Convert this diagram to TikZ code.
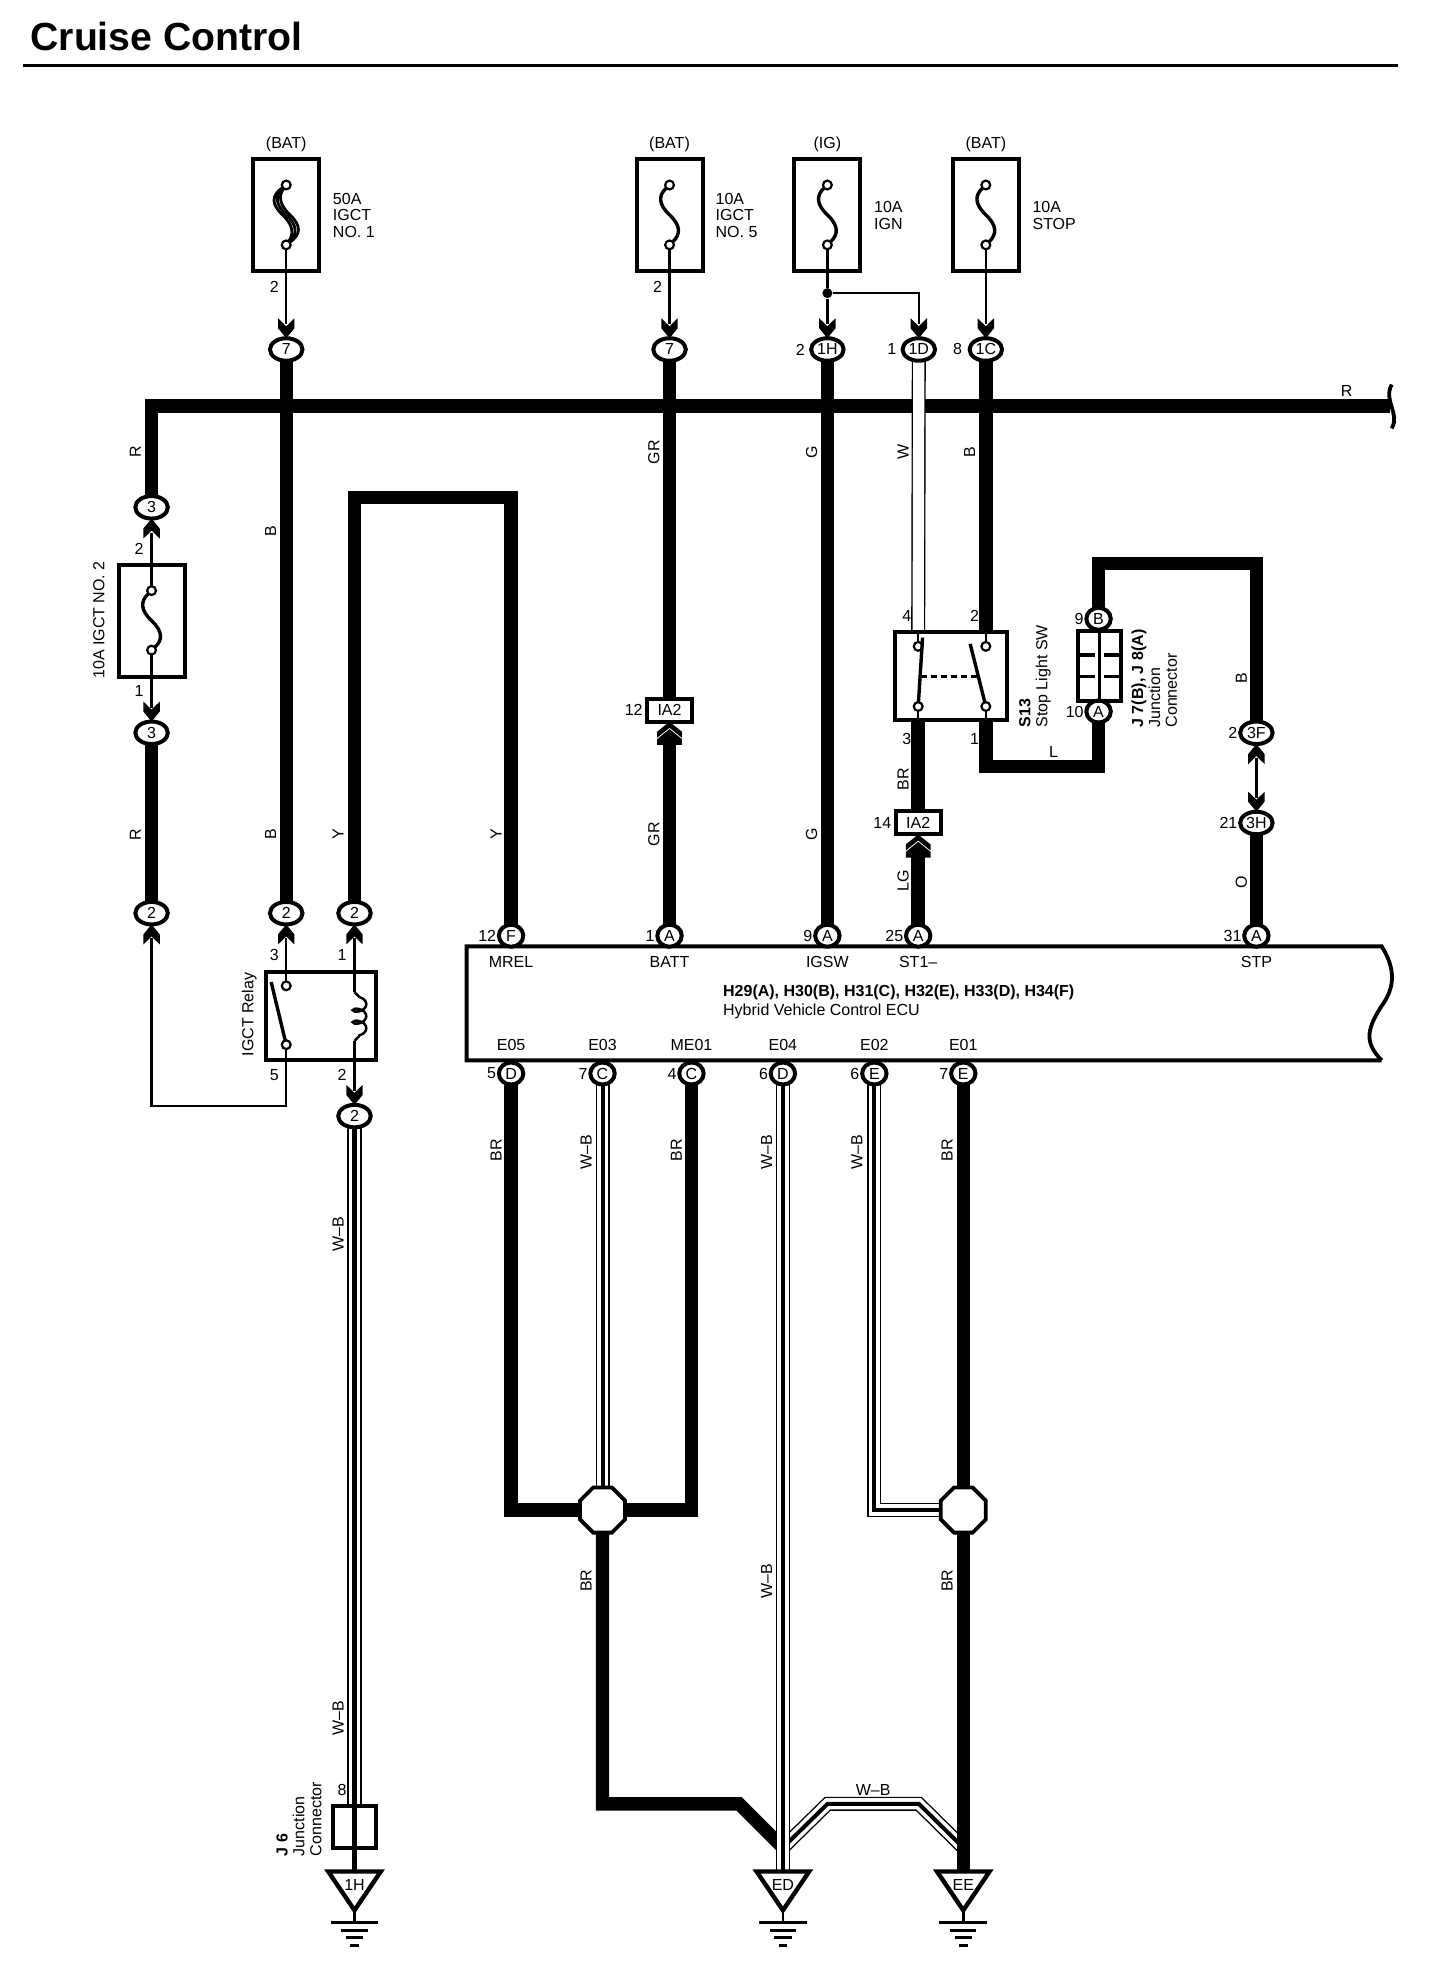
\documentclass[tikz,border=0pt]{standalone}
\usepackage{fontspec}
\setmainfont{Liberation Sans}
\usetikzlibrary{arrows.meta,backgrounds,positioning,shapes.geometric,decorations.pathmorphing}

\pgfdeclarearrow{
  name=Notch,
  setup code={\pgfarrowssettipend{10pt}\pgfarrowssetlineend{3pt}\pgfarrowssetvisualbackend{3pt}},
  drawing code={
    \pgfpathmoveto{\pgfqpoint{10pt}{0pt}}
    \pgfpathlineto{\pgfqpoint{5pt}{4.1pt}}
    \pgfpathlineto{\pgfqpoint{0pt}{4.1pt}}
    \pgfpathlineto{\pgfqpoint{4pt}{0pt}}
    \pgfpathlineto{\pgfqpoint{0pt}{-4.1pt}}
    \pgfpathlineto{\pgfqpoint{5pt}{-4.1pt}}
    \pgfpathclose
    \pgfusepathqfill}
}
\pgfdeclarearrow{
  name=Chevrons,
  setup code={\pgfarrowssettipend{11.6pt}\pgfarrowssetlineend{1pt}\pgfarrowssetvisualbackend{1pt}},
  drawing code={
    \pgfpathmoveto{\pgfqpoint{11.6pt}{0pt}}
    \pgfpathlineto{\pgfqpoint{6.6pt}{6.2pt}}
    \pgfpathlineto{\pgfqpoint{3.6pt}{6.2pt}}
    \pgfpathlineto{\pgfqpoint{8.6pt}{0pt}}
    \pgfpathlineto{\pgfqpoint{3.6pt}{-6.2pt}}
    \pgfpathlineto{\pgfqpoint{6.6pt}{-6.2pt}}
    \pgfpathclose
    \pgfpathmoveto{\pgfqpoint{7.9pt}{0pt}}
    \pgfpathlineto{\pgfqpoint{2.9pt}{6.2pt}}
    \pgfpathlineto{\pgfqpoint{0pt}{6.2pt}}
    \pgfpathlineto{\pgfqpoint{0pt}{-6.2pt}}
    \pgfpathlineto{\pgfqpoint{2.9pt}{-6.2pt}}
    \pgfpathclose
    \pgfusepathqfill}
}

\tikzset{
  tag/.style={inner sep=0pt,font=\fontsize{8}{8.45}\selectfont},
  boldtag/.style={tag,font=\fontsize{8}{8.45}\selectfont\bfseries},
  vtag/.style={tag,rotate=90},
  side/.style={tag,align=left,anchor=west},
  vside/.style={tag,rotate=90,align=left,anchor=south west},
  oval/.style={tag,ellipse,draw,fill=white,line width=2pt,outer sep=0pt,minimum width=16.25pt,minimum height=11.25pt},
  circ/.style={tag,ellipse,draw,fill=white,line width=2pt,outer sep=0pt,minimum width=12.2pt,minimum height=11pt},
  fusebox/.style={draw,line width=2pt,outer sep=0pt,inner sep=0pt,minimum width=33pt,minimum height=56pt},
  bigbox/.style={draw,line width=2pt,outer sep=0pt,inner sep=0pt},
  term/.style={circle,draw,fill=white,line width=1.1pt,inner sep=0pt,outer sep=0pt,minimum size=4.4pt},
  junc/.style={regular polygon,regular polygon sides=8,draw,fill=white,line width=1.9pt,inner sep=0pt,outer sep=0pt,minimum size=24.4pt},
  wire/.style={line width=6.7pt},
  wireW/.style={line width=7pt,postaction={draw=white,line width=5.6pt}},
  wireWB/.style={line width=7pt,postaction={draw=white,line width=5.6pt},postaction={draw=black,line width=2pt}},
  feed/.style={line width=1.25pt,-{Notch}},
  bifeed/.style={line width=1.25pt,{Notch}-{Notch}},
  thinw/.style={line width=1.25pt},
  chev/.style={wire,-{Chevrons}},
  blade/.style={line width=1.7pt},
  tri/.style={draw,fill=white,line width=2.2pt,line join=miter}
}

\begin{document}
\begin{tikzpicture}[x=.6263pt,y=-.6263pt]
\path[use as bounding box] (0,0) rectangle (1149.6,1567.9);

% Title
\node[tag,anchor=base west,font=\fontsize{19.6}{20}\selectfont\bfseries] (title) at (24,40) {Cruise Control};
\coordinate (ruleL) at (18,52);
\coordinate (ruleR) at (1116,52);
\draw[line width=1.5pt] (ruleL) -- (ruleR);

% Fuses along the top
\foreach \nm/\x/\src in {a/228.5/(BAT),b/534.5/(BAT),c/660.5/(IG),d/787/(BAT)}{
  \node[tag] (src\nm) at (\x,115) {\src};
  \node[fusebox] (fuse\nm) at (\x,171.4) {};
  \node[term] (ft\nm) at (\x,147.7) {};
  \node[term] (fb\nm) at (\x,195.5) {};
}
\foreach \nm/\x in {b/534.5,c/660.5,d/787}{
  \draw[blade] (ft\nm) .. controls ({\x-9},156) and ({\x-9},163) .. (\x,171.5)
     .. controls ({\x+9},180) and ({\x+9},187) .. (fb\nm);
}
\foreach \s in {-3,0,3}{
  \draw[line width=1.4pt] (fta) .. controls ({228.5-9+\s},156) and ({228.5-9+\s},163) .. ({228.5+\s},171.5)
     .. controls ({228.5+9+\s},180) and ({228.5+9+\s},187) .. (fba);
}
\node[side] (nameA) at (265.5,172) {50A\\IGCT\\NO. 1};
\node[side] (nameB) at (571,172) {10A\\IGCT\\NO. 5};
\node[side] (nameC) at (697.5,172) {10A\\IGN};
\node[side] (nameD) at (824,172) {10A\\STOP};
\node[tag] (nA) at (219,229) {2};
\node[tag] (nB) at (525,229) {2};

% Connectors under the fuses
\node[oval] (ca) at (228.5,279) {7};
\node[oval] (cb) at (534.5,279) {7};
\node[oval] (cc) at (660.5,279) {1H};
\node[oval] (ce) at (733.5,279) {1D};
\node[oval] (cd) at (787,279) {1C};
\node[tag] (nc) at (639,279) {2};
\node[tag] (ne) at (712,279) {1};
\node[tag] (nd) at (764.5,279) {8};
\node[circle,fill,inner sep=0pt,minimum size=5pt] (dotIG) at (660.5,234) {};
\coordinate (tapIG) at (733.5,234);

% Small fuse on the left
\node[oval] (cu) at (121,405) {3};
\node[fusebox] (fusee) at (121,495.5) {};
\node[term] (fte) at (121,471.5) {};
\node[term] (fbe) at (121,519) {};
\draw[blade] (fte) .. controls (112,480) and (112,487) .. (121,495.5)
   .. controls (130,504) and (130,511) .. (fbe);
\node[oval] (cv) at (121,585) {3};
\node[vtag] (nameE) at (79,495) {10A IGCT NO. 2};
\node[tag] (nu) at (111,438) {2};
\node[tag] (nv) at (111,552) {1};

% Row of connectors above the relay
\node[oval] (cw) at (121,729) {2};
\node[oval] (cx) at (228.5,729) {2};
\node[oval] (cy) at (283,729) {2};
\node[oval] (cz) at (283,891) {2};

% Relay
\node[bigbox,minimum width=55pt,minimum height=43.75pt] (relay) at (256,811) {};
\node[term] (rt3) at (228.5,787) {};
\node[term] (rt5) at (228.5,834) {};
\coordinate (rbl) at (216.5,784);
\draw[blade] (rbl) -- (rt5);
\coordinate (coilT) at (283,792);
\coordinate (coilA) at (287,796);
\coordinate (coilB) at (287,827);
\coordinate (coilE) at (283,831);
\draw[thinw] (coilT) -- (coilA);
\draw[thinw] (coilB) -- (coilE);
\draw[thinw,decorate,decoration={coil,aspect=.6,amplitude=3.4pt,segment length=6pt}] (coilA) -- (coilB);
\node[vtag] (nameR) at (199,810) {IGCT Relay};
\node[tag] (n3) at (219,762) {3};
\node[tag] (n1) at (273,762) {1};
\node[tag] (n5) at (219,858) {5};
\node[tag] (n2) at (273,858) {2};
\coordinate (rLow) at (121,883);

% ECU block
\fill[white] (372.5,755.5) -- (1103,755.5) .. controls (1114,773) and (1114,788) .. (1103,803)
   .. controls (1090,823) and (1090,833) .. (1103,846.5) -- (372.5,846.5) -- cycle;
\draw[line width=1.9pt] (1103,846.5) -- (372.5,846.5) -- (372.5,755.5) -- (1103,755.5)
   .. controls (1114,773) and (1114,788) .. (1103,803)
   .. controls (1090,823) and (1090,833) .. (1103,846.5);
\foreach \nm/\x/\lt/\no/\sig in {mrel/408/F/12/MREL,batt/534.5/A/1/BATT,igsw/660.5/A/9/IGSW,st/733/A/25/ST1--,stp/1003/A/31/STP}{
  \node[circ] (p\nm) at (\x,747) {\lt};
  \node[tag,left=1.2pt of p\nm] (n\nm) {\no};
  \node[tag] (s\nm) at (\x,768) {\sig};
}
\foreach \nm/\x/\lt/\no/\sig in {eo5/408/D/5/E05,eo3/481/C/7/E03,me/552/C/4/ME01,eo4/625/D/6/E04,eo2/698/E/6/E02,eo1/769/E/7/E01}{
  \node[circ] (p\nm) at (\x,857) {\lt};
  \node[tag,left=1.2pt of p\nm] (n\nm) {\no};
  \node[tag] (s\nm) at (\x,834) {\sig};
}
\node[boldtag,anchor=west] (ecuA) at (577,792) {H29(A), H30(B), H31(C), H32(E), H33(D), H34(F)};
\node[tag,anchor=west] (ecuB) at (577,807) {Hybrid Vehicle Control ECU};

% IA2 in line connectors
\node[bigbox,tag,line width=2pt,minimum width=22.5pt,minimum height=11.5pt,fill=white] (iaL) at (534.5,567) {IA2};
\node[bigbox,tag,line width=2pt,minimum width=22.5pt,minimum height=11.5pt,fill=white] (iaR) at (733,657) {IA2};
\node[tag,left=2pt of iaL] (niaL) {12};
\node[tag,left=2pt of iaR] (niaR) {14};

% Stop light switch
\node[bigbox,minimum width=56pt,minimum height=44pt] (sw) at (759.5,540) {};
\node[term] (s4) at (733,516) {};
\node[term] (s2) at (787,516) {};
\node[term] (s3) at (733,564) {};
\node[term] (s1) at (787,564) {};
\coordinate (bl4) at (736.5,509);
\coordinate (bl2) at (774.5,514);
\draw[blade] (bl4) -- (s3);
\draw[blade] (bl2) -- (s1);
\coordinate (dashL) at (735,540);
\coordinate (dashR) at (781,540);
\draw[blade,densely dashed] (dashL) -- (dashR);
\coordinate (sw4) at (733,505);
\coordinate (sw2) at (787,505);
\coordinate (sw3) at (733,576);
\coordinate (sw1) at (787,576);
\node[tag] (n4s) at (724,492) {4};
\node[tag] (n2s) at (778,492) {2};
\node[tag] (n3s) at (724,590) {3};
\node[tag] (n1s) at (778,590) {1};
\node[vside] (nameS) at (839,581) {\textbf{S13}\\Stop Light SW};

% Junction connector J 7, J 8
\node[circ] (jB) at (877,494) {B};
\node[circ] (jA) at (877,568) {A};
\node[tag,left=1.2pt of jB] (njB) {9};
\node[tag,left=1.2pt of jA] (njA) {10};
\node[bigbox,minimum width=21.4pt,minimum height=35pt] (jbox) at (877.5,532) {};
\draw[line width=1.7pt] (jbox.north) -- (jbox.south);
\foreach \y in {523,540}{
  \draw[line width=1.7pt] (862,\y) -- (874,\y);
  \draw[line width=1.7pt] (881,\y) -- (894,\y);
}
\node[vside] (nameJ) at (940,581) {\textbf{J 7(B), J 8(A)}\\Junction\\Connector};
\coordinate (topL) at (877,450);
\coordinate (topR) at (1003,450);
\coordinate (lowL) at (787,612);
\coordinate (lowR) at (877,612);

\node[oval] (c3F) at (1003,585) {3F};
\node[oval] (c3H) at (1003,657) {3H};
\node[tag,left=1.2pt of c3F] (n3F) {2};
\node[tag,left=1.2pt of c3H] (n3H) {21};

% Grounds
\foreach \nm/\x/\t in {h/283/1H,d/625/ED,e/769/EE}{
  \coordinate (gt\nm) at (\x,1494);
  \draw[tri] (gt\nm) ++(-21,0) -- ++(42,0) -- ++(-21,31) -- cycle;
  \node[tag] (g\nm) at (\x,1505) {\t};
  \draw[line width=1.4pt] (gt\nm) ++(0,31) -- ++(0,10);
  \draw[line width=1.6pt] (gt\nm) ++(-19,41) -- ++(38,0);
  \draw[line width=1.6pt] (gt\nm) ++(-10.5,47) -- ++(21,0);
  \draw[line width=1.6pt] (gt\nm) ++(-7,53) -- ++(14,0);
  \draw[line width=1.6pt] (gt\nm) ++(-3.5,59) -- ++(7,0);
}
\node[bigbox,minimum width=21pt,minimum height=21pt] (j6) at (283,1458.5) {};
\node[tag] (n8) at (273,1429) {8};
\node[vside] (nameH) at (257,1482) {\textbf{J 6}\\Junction\\Connector};

% Ground splices
\node[junc] (spL) at (481,1205.5) {};
\node[junc] (spR) at (769,1205.5) {};
\coordinate (brA) at (408,1205.5);
\coordinate (brB) at (552,1205.5);
\coordinate (brC) at (481,1440);
\coordinate (brD) at (590,1440);
\coordinate (brE) at (625,1475);
\coordinate (wbA) at (698,1205.5);
\coordinate (wbB) at (625,1475);
\coordinate (wbC) at (660.7,1440);
\coordinate (wbD) at (733.5,1440);
\coordinate (wbE) at (769,1475);

% Wire colour codes
\foreach \nm/\x/\y/\t in {r1/108/361/R,r2/108/666/R,b1/216/424/B,b2/216/666/B,y1/270/666/Y,y2/396/666/Y,
  gr1/522/361/GR,gr2/522/666/GR,g1/648/361/G,g2/648/666/G,w1/721/361/W,b3/774/361/B,br1/721/622/BR,lg/721/703/LG,
  b4/991/541/B,o/991/704/O,wb1/270/985/W--B,wb2/270/1372/W--B,br2/396/918/BR,wb3/468/920/W--B,br3/540/918/BR,
  wb4/612/920/W--B,wb5/684/920/W--B,br4/756/918/BR,br5/468/1262/BR,wb6/612/1262/W--B,br6/756/1262/BR}{
  \node[vtag] (code\nm) at (\x,\y) {\t};
}
\node[tag] (coderH) at (1075,312) {R};
\node[tag] (codeL) at (841,600) {L};
\node[tag] (codewbH) at (697,1429) {W--B};

\begin{scope}[on background layer]
% power bus
\coordinate (busL) at (121,324);
\coordinate (busR) at (1110,324);
\draw[wire] (cu.center) -- (busL) -- (busR);
\coordinate (wigT) at (1111,307);
\coordinate (wigB) at (1111,342);
\draw[line width=1.9pt] (wigT) .. controls (1104,320) and (1118,330) .. (wigB);

% thin feeds
\foreach \nm/\c in {a/ca,b/cb,d/cd}{
  \draw[feed] (fb\nm) -- (\c);
}
\draw[thinw] (fbc) -- (dotIG);
\draw[feed] (dotIG) -- (cc);
\draw[feed] (dotIG) -- (tapIG) -- (ce);
\draw[feed] (fte) -- (cu);
\draw[feed] (fbe) -- (cv);
\draw[feed] (rt3) -- (cx);
\draw[feed] (coilT) -- (cy);
\draw[feed] (coilE) -- (cz);
\draw[feed] (rt5) |- (rLow) -- (cw);
\draw[bifeed] (c3F) -- (c3H);
\draw[thinw] (sw4) -- (s4);
\draw[thinw] (sw2) -- (s2);
\draw[thinw] (sw3) -- (s3);
\draw[thinw] (sw1) -- (s1);

% thick wires
\draw[wire] (ca.center) -- (cx.center);
\draw[wire] (cb.center) -- (iaL);
\draw[chev] (pbatt.center) -- (iaL);
\draw[wire] (cc.center) -- (pigsw.center);
\draw[wire] (cd.center) -- (sw2);
\draw[wire] (sw3) -- (iaR);
\draw[chev] (pst.center) -- (iaR);
\draw[wire] (sw1) -- (lowL) -- (lowR) -- (jA.center);
\draw[wire] (jB.center) -- (topL) -- (topR) -- (c3F.center);
\draw[wire] (c3H.center) -- (pstp.center);
\draw[wire] (cv.center) -- (cw.center);
\coordinate (yL) at (283,397);
\coordinate (yR) at (408,397);
\draw[wire] (cy.center) -- (yL) -- (yR) -- (pmrel.center);
\draw[wireW] (ce.center) -- (sw4);

% grounds side
\draw[wire] (peo5.center) -- (brA) -- (spL.center);
\draw[wire] (pme.center) -- (brB) -- (spL.center);
\draw[wireWB] (peo3.center) -- (spL.center);
\draw[wire] (spL.center) -- (brC) -- (brD) -- (brE);
\draw[wireWB] (wbB) -- (wbC) -- (wbD) -- (wbE);
\draw[wireWB] (peo4.center) -- (gtd);
\draw[wire] (peo1.center) -- (gte);
\draw[wireWB] (peo2.center) -- (wbA) -- (spR.center);
\draw[wireWB] (cz.center) -- (j6.north);
\draw[line width=2pt] (j6.north) -- (gth);
\end{scope}
\end{tikzpicture}
\end{document}
